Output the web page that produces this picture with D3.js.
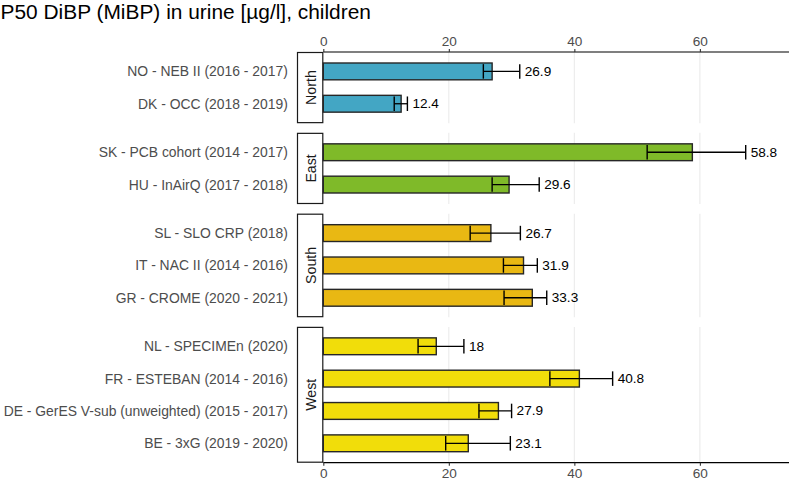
<!DOCTYPE html>
<html><head><meta charset="utf-8">
<script src="https://cdn.jsdelivr.net/npm/d3@7"></script>
<style>body{margin:0;background:#fff}svg{display:block}</style>
</head><body><div id="chart"></div>
<script>
const regions = ["North", "East", "South", "West"];
const regionColors = ["#43A6C4", "#7FBA29", "#E9B813", "#F1DD0A"];
const studies = [
  "NO - NEB II (2016 - 2017)", "DK - OCC (2018 - 2019)",
  "SK - PCB cohort (2014 - 2017)", "HU - InAirQ (2017 - 2018)",
  "SL - SLO CRP (2018)", "IT - NAC II (2014 - 2016)", "GR - CROME (2020 - 2021)",
  "NL - SPECIMEn (2020)", "FR - ESTEBAN (2014 - 2016)", "DE - GerES V-sub (unweighted) (2015 - 2017)", "BE - 3xG (2019 - 2020)"
];
const studyRegion = ["North","North","East","East","South","South","South","West","West","West","West"];
const p50 = [26.9, 12.4, 58.8, 29.6, 26.7, 31.9, 33.3, 18, 40.8, 27.9, 23.1];
const ciLow = [25.5, 11.3, 51.6, 26.9, 23.4, 28.7, 28.8, 15.1, 36.1, 24.8, 19.5];
const ciHigh = [31.3, 13.4, 67.3, 34.4, 31.4, 34.1, 35.6, 22.4, 46.1, 30.0, 29.8];
const xTicks = [0, 20, 40, 60];
const title = "P50 DiBP (MiBP) in urine [µg/l], children";

(function () {
const W = 790, H = 483;
const FONT = "'Liberation Sans', Arial, sans-serif";
const svg = d3.select("#chart").append("svg").attr("width", W).attr("height", H);

const x = d3.scaleLinear().domain([0, 74.2]).range([323.3, 789]);
const yTop = 52, yBottom = 462.7, gap = 9.7;
const counts = regions.map(r => studyRegion.filter(s => s === r).length);
const units = counts.map(n => n + 0.2);
const unit = (yBottom - yTop - gap * (regions.length - 1)) / d3.sum(units);

svg.append("text").attr("x", 0.5).attr("y", 18.5).attr("font-family", FONT)
  .attr("font-size", 20.9).attr("fill", "#000").text(title);

let yCur = yTop;
const rows = studies.map((s, i) => ({s, region: studyRegion[i], v: p50[i], lo: ciLow[i], hi: ciHigh[i]}));
regions.forEach((r, ri) => {
  const ph = units[ri] * unit;
  const y0 = yCur, y1 = yCur + ph;
  const items = rows.filter(d => d.region === r);
  const y = d3.scalePoint().domain(items.map(d => d.s))
    .range([y0 + 0.6 * unit, y1 - 0.6 * unit]);
  const g = svg.append("g");
  g.selectAll("line.grid").data(xTicks.filter(t => t > 0)).join("line")
    .attr("x1", d => x(d)).attr("x2", d => x(d)).attr("y1", y0).attr("y2", y1)
    .attr("stroke", "#ebebeb").attr("stroke-width", 1.1);
  g.append("rect").attr("x", 297.5).attr("y", y0 + 0.5).attr("width", 25.3).attr("height", ph - 1)
    .attr("fill", "#fff").attr("stroke", "#1a1a1a").attr("stroke-width", 1.2);
  g.append("text").attr("transform", `translate(${310.5},${(y0 + y1) / 2}) rotate(-90)`)
    .attr("text-anchor", "middle").attr("dominant-baseline", "central")
    .attr("font-family", FONT).attr("font-size", 14.2).attr("fill", "#1a1a1a").text(r);
  const bh = 0.52 * unit;
  g.selectAll("rect.bar").data(items).join("rect")
    .attr("x", x(0)).attr("y", d => y(d.s) - bh / 2)
    .attr("width", d => x(d.v) - x(0)).attr("height", bh)
    .attr("fill", regionColors[ri]).attr("stroke", "#262626").attr("stroke-width", 1.4);
  const cw = 0.45 * unit;
  items.forEach(d => {
    const cy = y(d.s);
    g.append("line").attr("x1", x(d.lo)).attr("x2", x(d.hi)).attr("y1", cy).attr("y2", cy)
      .attr("stroke", "#000").attr("stroke-width", 1.3);
    [d.lo, d.hi].forEach(v => g.append("line").attr("x1", x(v)).attr("x2", x(v))
      .attr("y1", cy - cw / 2).attr("y2", cy + cw / 2).attr("stroke", "#000").attr("stroke-width", 1.4));
    g.append("text").attr("x", x(d.hi) + 5).attr("y", cy).attr("dominant-baseline", "central")
      .attr("font-family", FONT).attr("font-size", 13.6).attr("fill", "#000").text(d3.format("~")(d.v));
    g.append("text").attr("x", 287.8).attr("y", cy).attr("dominant-baseline", "central")
      .attr("text-anchor", "end").attr("font-family", FONT).attr("font-size", 13.9)
      .attr("fill", "#4d4d4d").text(d.s);
  });
  yCur = y1 + gap;
});

const axTop = svg.append("g").attr("transform", `translate(0,${yTop})`)
  .call(d3.axisTop(x).tickValues(xTicks).tickSize(3).tickPadding(3).tickFormat(d3.format("d")));
const axBot = svg.append("g").attr("transform", `translate(0,${yBottom})`)
  .call(d3.axisBottom(x).tickValues(xTicks).tickSize(3).tickPadding(3).tickFormat(d3.format("d")));
[axTop, axBot].forEach(a => {
  a.select(".domain").attr("stroke", "#000").attr("stroke-width", 1.2).attr("d", `M${x(0)},0H789`);
  a.selectAll(".tick line").attr("stroke", "#333").attr("stroke-width", 1.1);
  a.selectAll("text").attr("font-family", FONT).attr("font-size", 13.6).attr("fill", "#4d4d4d");
});
})();
</script></body></html>
